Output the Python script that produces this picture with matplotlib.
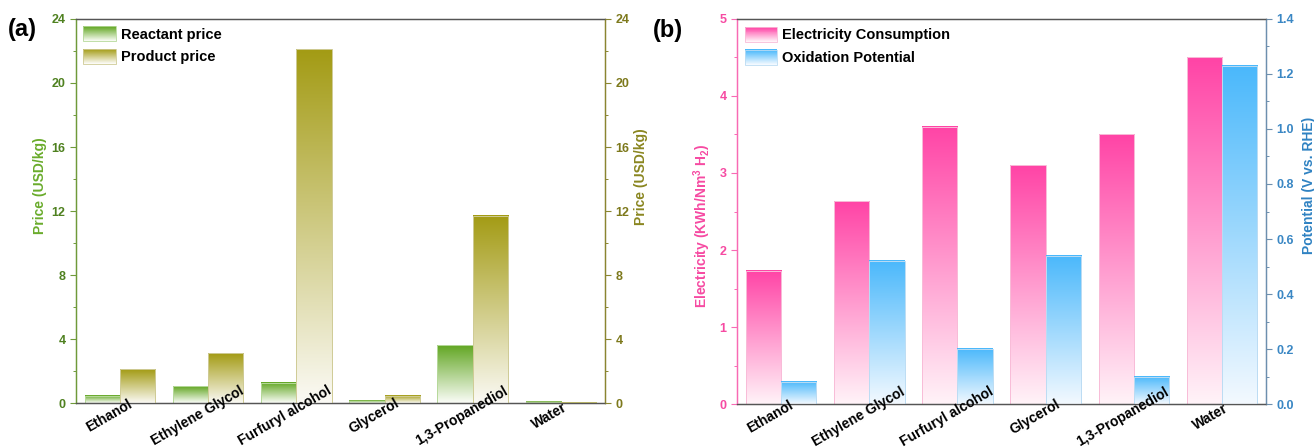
import numpy as np
import matplotlib
matplotlib.use("Agg")
import matplotlib.pyplot as plt
from matplotlib.colors import LinearSegmentedColormap
from matplotlib.legend_handler import HandlerBase
from matplotlib.patches import Rectangle, Patch
from matplotlib.ticker import MultipleLocator
import matplotlib.transforms as mtrans

plt.rcParams['font.family'] = ['Liberation Sans', 'DejaVu Sans']
plt.rcParams['font.weight'] = 'bold'
plt.rcParams['axes.labelweight'] = 'bold'
plt.rcParams['mathtext.fontset'] = 'custom'
plt.rcParams['mathtext.rm'] = 'Liberation Sans:bold'
plt.rcParams['mathtext.it'] = 'Liberation Sans:bold'
plt.rcParams['mathtext.bf'] = 'Liberation Sans:bold'

# ---------------- data ----------------
categories = ["Ethanol", "Ethylene Glycol", "Furfuryl alcohol", "Glycerol",
              "1,3-Propanediol", "Water"]
reactant_price = [0.45, 1.06, 1.27, 0.15, 3.6, 0.08]
product_price = [2.1, 3.1, 22.1, 0.46, 11.7, 0.03]
electricity = [1.73, 2.63, 3.6, 3.1, 3.5, 4.5]
potential = [0.08, 0.52, 0.20, 0.54, 0.10, 1.23]

# ---------------- style ----------------
GREEN = "#62a623"
OLIVE = "#a39b14"
PINK = "#ff44a6"
BLUE = "#4ab8fb"


def make_cmap(top, bottom="#ffffff"):
    return LinearSegmentedColormap.from_list("g", [bottom, top])


cm_green = make_cmap(GREEN, "#fbfdf8")
cm_olive = make_cmap(OLIVE, "#fbfaf5")
cm_pink = make_cmap(PINK, "#fff3f8")
cm_blue = make_cmap(BLUE, "#f3f9ff")


class GradientHandler(HandlerBase):
    def __init__(self, cmap, edge):
        super().__init__()
        self.cmap = cmap
        self.edge = edge

    def create_artists(self, legend, orig_handle, xdescent, ydescent, width,
                       height, fontsize, trans):
        arts = []
        n = 30
        for i in range(n):
            r = Rectangle((-xdescent, -ydescent + height * i / n), width,
                          height / n + 0.3, facecolor=self.cmap(i / (n - 1)),
                          edgecolor='none', linewidth=0, transform=trans)
            arts.append(r)
        arts.append(Rectangle((-xdescent, -ydescent), width, height,
                              facecolor='none', edgecolor=self.edge,
                              linewidth=0.6, transform=trans))
        return arts


def grad_bars(ax, xs, vals, width, cmap, edge):
    grad = np.linspace(0, 1, 256).reshape(-1, 1)
    for x, v in zip(xs, vals):
        ax.imshow(grad, cmap=cmap, extent=(x - width / 2, x + width / 2, 0, v),
                  origin='lower', aspect='auto', zorder=1,
                  interpolation='bilinear')
    ax.bar(xs, vals, width=width, facecolor='none', edgecolor=edge,
           linewidth=0.7, zorder=1.2)


def style_axes(ax, ax2, ltick, rtick, lspine, rspine):
    for a in (ax, ax2):
        a.spines['top'].set_color('#555555')
        a.spines['bottom'].set_color('#555555')
        a.spines['left'].set_color(lspine)
        a.spines['right'].set_color(rspine)
        for s in a.spines.values():
            s.set_linewidth(0.9)
    ax.tick_params(axis='y', which='both', direction='out', colors=lspine,
                   labelcolor=ltick, labelsize=9)
    ax.tick_params(axis='y', which='major', length=4, width=0.8)
    ax.tick_params(axis='y', which='minor', length=2.5, width=0.7)
    ax2.tick_params(axis='y', which='both', direction='out', colors=rspine,
                    labelcolor=rtick, labelsize=9)
    ax2.tick_params(axis='y', which='major', length=4, width=0.8)
    ax2.tick_params(axis='y', which='minor', length=2.5, width=0.7)
    for lab in ax.get_yticklabels() + ax2.get_yticklabels():
        lab.set_fontweight('bold')


def xlabels(fig, ax, ax2, cats):
    xs = np.arange(len(cats))
    ax.set_xticks(xs)
    ax.tick_params(axis='x', length=0, labelbottom=False)
    ax2.set_axisbelow(False)
    ax2.xaxis.set_visible(True)
    ax2.set_xticks(xs)
    ax2.set_xticklabels(cats, rotation=30, ha='center', va='center',
                        fontsize=10, fontweight='bold')
    ax2.tick_params(axis='x', length=0, pad=0, labelbottom=True, labeltop=False)
    off = mtrans.ScaledTranslation(-11 / 100, -13 / 100, fig.dpi_scale_trans)
    for lab in ax2.get_xticklabels():
        lab.set_transform(lab.get_transform() + off)


fig = plt.figure(figsize=(13.14, 4.48), dpi=100)
x = np.arange(len(categories))
w = 0.4

# ---------------- panel (a) ----------------
axA = fig.add_axes([0.0578, 0.1004, 0.4026, 0.8572])
axA2 = axA.twinx()
grad_bars(axA, x - w / 2, reactant_price, w, cm_green, "#b6d99a")
grad_bars(axA2, x + w / 2, product_price, w, cm_olive, "#cfcb95")
for a in (axA, axA2):
    a.set_xlim(-0.5, len(categories) - 0.5)
    a.set_ylim(0, 24)
    a.yaxis.set_major_locator(MultipleLocator(4))
    a.yaxis.set_minor_locator(MultipleLocator(2))
style_axes(axA, axA2, "#4f8120", "#7d791c", "#6f9a3a", "#8a8530")
axA.set_ylabel("Price (USD/kg)", color="#6aac2c", fontsize=10)
axA2.set_ylabel("Price (USD/kg)", color="#8a8620", fontsize=10)
axA.yaxis.set_label_coords(-0.055, 0.565)
axA2.yaxis.set_label_coords(1.055, 0.59)
xlabels(fig, axA, axA2, categories)

# ---------------- panel (b) ----------------
axB = fig.add_axes([0.5609, 0.0982, 0.4026, 0.8594])
axB2 = axB.twinx()
grad_bars(axB, x - w / 2, electricity, w, cm_pink, "#f8bcd8")
grad_bars(axB2, x + w / 2, potential, w, cm_blue, "#bcdcf3")
for a in (axB, axB2):
    a.set_xlim(-0.5, len(categories) - 0.5)
axB.set_ylim(0, 5)
axB.yaxis.set_major_locator(MultipleLocator(1))
axB.yaxis.set_minor_locator(MultipleLocator(0.5))
axB2.set_ylim(0, 1.4)
axB2.yaxis.set_major_locator(MultipleLocator(0.2))
axB2.yaxis.set_minor_locator(MultipleLocator(0.1))
axB2.yaxis.set_major_formatter(matplotlib.ticker.FormatStrFormatter('%.1f'))
style_axes(axB, axB2, "#f64aa2", "#3a87c4", "#f86ab4", "#6d8fae")
axB.set_ylabel("Electricity (KWh/Nm$^3$ H$_2$)", color="#f64aa2", fontsize=10)
axB2.set_ylabel("Potential (V vs. RHE)", color="#2f82c2", fontsize=10)
axB.yaxis.set_label_coords(-0.045, 0.462)
axB2.yaxis.set_label_coords(1.068, 0.569)
xlabels(fig, axB, axB2, categories)

# legends
hA1, hA2 = Patch(), Patch()
legA = axA2.legend([hA1, hA2], ["Reactant price", "Product price"],
                   handler_map={hA1: GradientHandler(cm_green, "#b6d99a"),
                                hA2: GradientHandler(cm_olive, "#cfcb95")},
                   loc='upper left', frameon=False, fontsize=10.5,
                   handlelength=2.25, handleheight=1.2, handletextpad=0.35,
                   labelspacing=0.5, borderpad=0.0, borderaxespad=0.5)
hB1, hB2 = Patch(), Patch()
legB = axB2.legend([hB1, hB2], ["Electricity Consumption", "Oxidation Potential"],
                   handler_map={hB1: GradientHandler(cm_pink, "#f8bcd8"),
                                hB2: GradientHandler(cm_blue, "#bcdcf3")},
                   loc='upper left', frameon=False, fontsize=10.5,
                   handlelength=2.2, handleheight=1.2, handletextpad=0.35,
                   labelspacing=0.5, borderpad=0.0, borderaxespad=0.55)

fig.text(0.006, 0.935, "(a)", fontsize=17, fontweight='bold', va='center')
fig.text(0.497, 0.933, "(b)", fontsize=17, fontweight='bold', va='center')

fig.savefig("out.png", dpi=100)
